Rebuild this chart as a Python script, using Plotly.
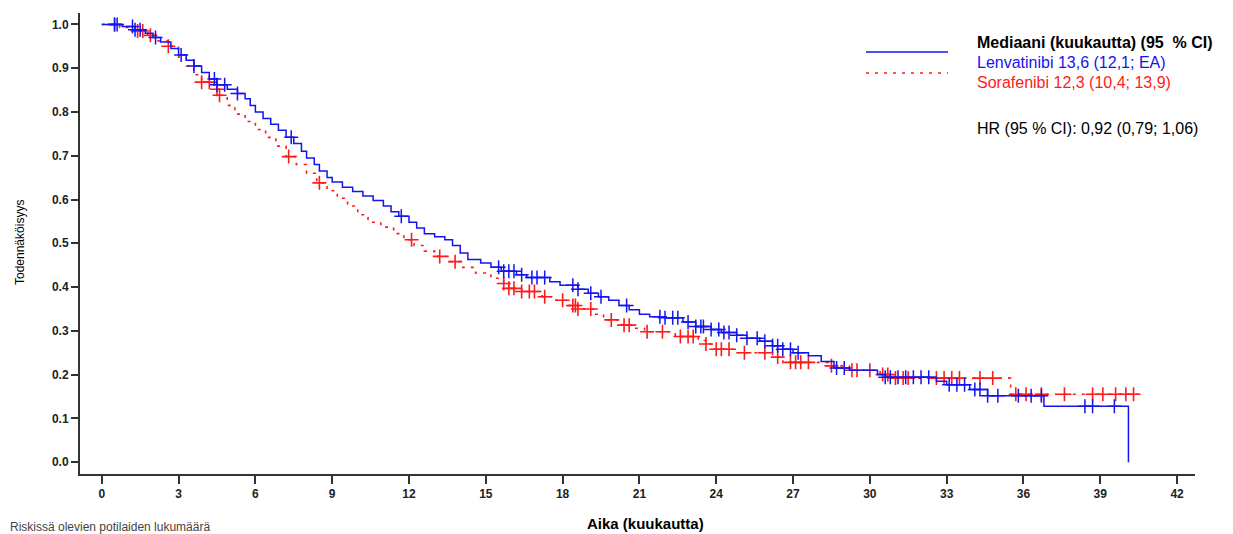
import numpy as np
import plotly.graph_objects as go

# ---------------- data ----------------
len_t = [0, 0.8, 1.3, 1.7, 2.0, 2.3, 2.7, 3.0, 3.3, 3.6, 3.9, 4.2, 4.5, 4.9, 5.3, 5.6, 5.8, 6.0,
         6.3, 6.6, 6.9, 7.2, 7.5, 7.8, 8.0, 8.3, 8.5, 8.8, 9.0, 9.4, 9.8, 10.2, 10.6, 11.0, 11.3,
         11.6, 12.0, 12.3, 12.6, 13.0, 13.4, 13.7, 14.0, 14.3, 14.8, 15.2, 15.6, 16.2, 16.6, 17.5,
         17.9, 18.6, 19.0, 19.4, 19.8, 20.2, 20.6, 21.0, 21.4, 22.0, 22.7, 23.2, 23.8, 24.2, 24.8,
         25.2, 25.7, 26.2, 26.6, 27.0, 27.6, 28.1, 28.6, 29.2, 30.3, 30.6, 32.6, 33.0, 33.9, 34.6,
         36.8, 40.1]
len_s = [1.0, 0.995, 0.988, 0.98, 0.97, 0.96, 0.945, 0.93, 0.918, 0.905, 0.89, 0.875, 0.862,
         0.852, 0.842, 0.83, 0.815, 0.80, 0.785, 0.772, 0.758, 0.742, 0.728, 0.71, 0.695, 0.68,
         0.665, 0.65, 0.64, 0.628, 0.618, 0.608, 0.598, 0.585, 0.572, 0.562, 0.548, 0.535, 0.522,
         0.515, 0.508, 0.495, 0.478, 0.463, 0.455, 0.445, 0.436, 0.428, 0.422, 0.412, 0.404, 0.395,
         0.386, 0.378, 0.37, 0.358, 0.348, 0.338, 0.332, 0.33, 0.32, 0.31, 0.303, 0.296, 0.29,
         0.283, 0.276, 0.266, 0.258, 0.25, 0.243, 0.23, 0.215, 0.21, 0.2, 0.194, 0.185, 0.177,
         0.166, 0.152, 0.128, 0.0]
len_cens = [0.5, 0.6, 1.2, 1.3, 1.5, 2.1, 3.1, 3.6, 4.4, 4.5, 4.8, 5.3, 7.4, 11.7, 15.5, 15.7,
            15.9, 16.1, 16.4, 16.8, 17.0, 17.3, 18.4, 18.6, 19.1, 19.5, 20.5, 21.8, 22.0, 22.3,
            22.5, 22.9, 23.2, 23.4, 23.5, 23.8, 24.1, 24.3, 24.5, 24.8, 25.2, 25.6, 25.9, 26.2,
            26.4, 26.6, 26.9, 27.2, 28.7, 29.0, 30.6, 30.8, 31.1, 31.4, 31.7, 32.0, 32.3, 33.1,
            33.4, 33.7, 34.1, 34.3, 34.6, 35.0, 35.8, 36.3, 36.7, 38.4, 38.7, 39.55]

sor_t = [0, 0.7, 1.2, 1.8, 2.2, 2.6, 3.0, 3.3, 3.6, 3.9, 4.4, 4.6, 4.9, 5.2, 5.6, 6.0, 6.4, 6.8,
         7.2, 7.6, 8.0, 8.4, 8.8, 9.2, 9.6, 10.0, 10.4, 10.9, 11.4, 11.8, 12.2, 12.6, 13.0, 13.6,
         14.1, 14.6, 15.2, 15.7, 15.9, 16.4, 17.2, 17.7, 18.2, 18.6, 19.2, 19.6, 20.3, 20.8, 21.2,
         22.4, 23.3, 23.6, 23.9, 24.8, 26.2, 26.6, 28.5, 29.2, 30.4, 30.8, 35.5, 40.5]
sor_s = [1.0, 0.993, 0.985, 0.975, 0.962, 0.95, 0.925, 0.905, 0.885, 0.868, 0.852, 0.838, 0.815,
         0.795, 0.778, 0.76, 0.742, 0.722, 0.698, 0.68, 0.66, 0.638, 0.62, 0.603, 0.585, 0.565,
         0.548, 0.537, 0.522, 0.508, 0.495, 0.482, 0.47, 0.458, 0.445, 0.432, 0.42, 0.408, 0.397,
         0.39, 0.378, 0.37, 0.358, 0.35, 0.338, 0.325, 0.313, 0.306, 0.298, 0.287, 0.278, 0.27,
         0.258, 0.25, 0.24, 0.228, 0.22, 0.21, 0.2, 0.192, 0.155, 0.155]
sor_cens = [0.5, 1.4, 1.6, 1.9, 2.6, 3.9, 4.2, 4.5, 4.6, 7.3, 8.5, 12.1, 13.2, 13.8, 15.7, 15.9,
            16.1, 16.4, 16.7, 16.9, 17.3, 18.0, 18.4, 18.5, 18.6, 19.1, 19.9, 20.4, 20.6, 21.3,
            21.9, 22.6, 22.9, 23.1, 23.6, 24.0, 24.2, 24.5, 25.1, 25.9, 26.4, 26.9, 27.1, 27.3,
            27.6, 28.5, 29.3, 29.5, 30.0, 30.5, 30.7, 31.0, 31.3, 31.5, 32.6, 32.9, 33.2, 33.5,
            34.3, 34.8, 35.7, 36.1, 36.7, 37.6, 38.7, 39.1, 39.6, 40.0, 40.3]

x_ticks = list(range(0, 43, 3))
y_ticks = [round(v * 0.1, 1) for v in range(11)]

legend_title = "Mediaani (kuukautta) (95  % CI)"
len_label = "Lenvatinibi 13,6 (12,1; EA)"
sor_label = "Sorafenibi 12,3 (10,4; 13,9)"
hr_label = "HR (95 % CI): 0,92 (0,79; 1,06)"

BLUE = "#1414f0"
RED = "#ff1a1a"


def step_value(ts, ss, c):
    i = np.searchsorted(np.array(ts), c, side="right") - 1
    return ss[i]


len_cens_y = [step_value(len_t, len_s, c) for c in len_cens]
sor_cens_y = [step_value(sor_t, sor_s, c) for c in sor_cens]

fig = go.Figure()
fig.add_trace(go.Scatter(x=sor_t, y=sor_s, mode="lines", line_shape="hv",
                         line=dict(color=RED, width=1.6, dash="3px,6px"), showlegend=False))
fig.add_trace(go.Scatter(x=sor_cens, y=sor_cens_y, mode="markers", showlegend=False,
                         marker=dict(symbol="cross-thin", size=10, line=dict(color=RED, width=1.6))))
fig.add_trace(go.Scatter(x=len_t, y=len_s, mode="lines", line_shape="hv",
                         line=dict(color=BLUE, width=1.5), showlegend=False))
fig.add_trace(go.Scatter(x=len_cens, y=len_cens_y, mode="markers", showlegend=False,
                         marker=dict(symbol="cross-thin", size=10, line=dict(color=BLUE, width=1.5))))

# page has an 8px body margin; positions below are given in screen pixels
OFF = 8
W, H = 1233 - OFF, 534 - OFF
L, R, T, B = 80 - OFF, 1195 - OFF, 13 - OFF, 474 - OFF


def px(x):
    return (x - OFF - L) / (R - L)


def py(y):
    return (B - (y - OFF)) / (B - T)


tickfont = dict(family="Liberation Sans, Arial", size=12, color="#222", weight="bold")
fig.update_xaxes(range=[-0.85, 42.7], tickvals=x_ticks, ticks="outside", ticklen=8, tickwidth=1.5,
                 tickcolor="#333", showline=True, linecolor="#333", linewidth=2, showgrid=False,
                 zeroline=False, tickfont=tickfont)
fig.update_yaxes(range=[-0.027, 1.026], tickvals=y_ticks, tickformat=".1f", ticks="outside",
                 ticklen=7, tickwidth=1.5, tickcolor="#333", showline=True, linecolor="#333",
                 linewidth=2, showgrid=False, zeroline=False, tickfont=tickfont)

font = "Liberation Sans, Arial"
ann = []
ann.append(dict(text=legend_title, x=px(975), y=py(42), xref="paper", yref="paper",
                xanchor="left", yanchor="middle", showarrow=False,
                font=dict(family=font, size=16, color="black", weight="bold")))
ann.append(dict(text=len_label, x=px(975), y=py(62), xref="paper", yref="paper",
                xanchor="left", yanchor="middle", showarrow=False,
                font=dict(family=font, size=16, color=BLUE)))
ann.append(dict(text=sor_label, x=px(975), y=py(83), xref="paper", yref="paper",
                xanchor="left", yanchor="middle", showarrow=False,
                font=dict(family=font, size=16, color=RED)))
ann.append(dict(text=hr_label, x=px(975), y=py(128), xref="paper", yref="paper",
                xanchor="left", yanchor="middle", showarrow=False,
                font=dict(family=font, size=16, color="black")))
ann.append(dict(text="Aika (kuukautta)", x=px(645), y=py(523), xref="paper", yref="paper",
                xanchor="center", yanchor="middle", showarrow=False,
                font=dict(family=font, size=15, color="black", weight="bold")))
ann.append(dict(text="Todennäköisyys", x=px(20), y=py(243), xref="paper", yref="paper",
                xanchor="center", yanchor="middle", showarrow=False, textangle=-90,
                font=dict(family=font, size=12, color="black")))
ann.append(dict(text="Riskissä olevien potilaiden lukumäärä", x=px(8), y=py(527), xref="paper",
                yref="paper", xanchor="left", yanchor="middle", showarrow=False,
                font=dict(family=font, size=12, color="#444")))

shapes = [
    dict(type="line", xref="paper", yref="paper", x0=px(866), x1=px(948), y0=py(52), y1=py(52),
         line=dict(color=BLUE, width=1.5)),
    dict(type="line", xref="paper", yref="paper", x0=px(866), x1=px(948), y0=py(73), y1=py(73),
         line=dict(color=RED, width=1.5, dash="3px,6px")),
]

fig.update_layout(width=W, height=H, margin=dict(l=L, r=W - R, t=T, b=H - B),
                  plot_bgcolor="white", paper_bgcolor="white", annotations=ann, shapes=shapes,
                  showlegend=False)

fig.write_html("out.html")
